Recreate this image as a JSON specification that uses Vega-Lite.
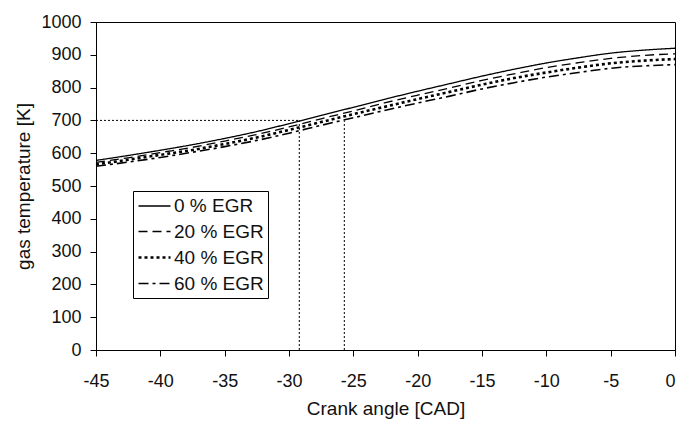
{
  "$schema": "https://vega.github.io/schema/vega-lite/v6.json",
  "width": 579,
  "height": 328,
  "autosize": {"type": "none"},
  "padding": {"left": 96, "top": 22, "right": 4, "bottom": 71},
  "background": "white",
  "config": {
    "view": {"stroke": "black", "strokeWidth": 1},
    "axis": {
      "grid": false,
      "domainColor": "black",
      "tickColor": "black",
      "labelColor": "#111111",
      "titleColor": "#111111",
      "labelFont": "Liberation Sans",
      "titleFont": "Liberation Sans",
      "labelFontSize": 18,
      "titleFontSize": 19,
      "titleFontWeight": "normal",
      "tickSize": 6,
      "labelOverlap": false,
      "labelFlush": false
    }
  },
  "datasets": {
    "curves": [
      {"angle": -45, "T": 578, "egr": "0 % EGR"},
      {"angle": -42.5, "T": 593, "egr": "0 % EGR"},
      {"angle": -40, "T": 609, "egr": "0 % EGR"},
      {"angle": -37.5, "T": 626, "egr": "0 % EGR"},
      {"angle": -35, "T": 645, "egr": "0 % EGR"},
      {"angle": -32.5, "T": 666, "egr": "0 % EGR"},
      {"angle": -30, "T": 690, "egr": "0 % EGR"},
      {"angle": -27.5, "T": 715, "egr": "0 % EGR"},
      {"angle": -25, "T": 740, "egr": "0 % EGR"},
      {"angle": -22.5, "T": 765, "egr": "0 % EGR"},
      {"angle": -20, "T": 789, "egr": "0 % EGR"},
      {"angle": -17.5, "T": 812, "egr": "0 % EGR"},
      {"angle": -15, "T": 835, "egr": "0 % EGR"},
      {"angle": -12.5, "T": 856, "egr": "0 % EGR"},
      {"angle": -10, "T": 875, "egr": "0 % EGR"},
      {"angle": -7.5, "T": 891, "egr": "0 % EGR"},
      {"angle": -5, "T": 905, "egr": "0 % EGR"},
      {"angle": -2.5, "T": 914, "egr": "0 % EGR"},
      {"angle": 0, "T": 920, "egr": "0 % EGR"},

      {"angle": -45, "T": 572, "egr": "20 % EGR"},
      {"angle": -42.5, "T": 586, "egr": "20 % EGR"},
      {"angle": -40, "T": 602, "egr": "20 % EGR"},
      {"angle": -37.5, "T": 618, "egr": "20 % EGR"},
      {"angle": -35, "T": 637, "egr": "20 % EGR"},
      {"angle": -32.5, "T": 657, "egr": "20 % EGR"},
      {"angle": -30, "T": 680, "egr": "20 % EGR"},
      {"angle": -27.5, "T": 705, "egr": "20 % EGR"},
      {"angle": -25, "T": 729, "egr": "20 % EGR"},
      {"angle": -22.5, "T": 754, "egr": "20 % EGR"},
      {"angle": -20, "T": 777, "egr": "20 % EGR"},
      {"angle": -17.5, "T": 799, "egr": "20 % EGR"},
      {"angle": -15, "T": 822, "egr": "20 % EGR"},
      {"angle": -12.5, "T": 842, "egr": "20 % EGR"},
      {"angle": -10, "T": 861, "egr": "20 % EGR"},
      {"angle": -7.5, "T": 876, "egr": "20 % EGR"},
      {"angle": -5, "T": 889, "egr": "20 % EGR"},
      {"angle": -2.5, "T": 898, "egr": "20 % EGR"},
      {"angle": 0, "T": 903, "egr": "20 % EGR"},

      {"angle": -45, "T": 566, "egr": "40 % EGR"},
      {"angle": -42.5, "T": 580, "egr": "40 % EGR"},
      {"angle": -40, "T": 595, "egr": "40 % EGR"},
      {"angle": -37.5, "T": 610, "egr": "40 % EGR"},
      {"angle": -35, "T": 628, "egr": "40 % EGR"},
      {"angle": -32.5, "T": 648, "egr": "40 % EGR"},
      {"angle": -30, "T": 671, "egr": "40 % EGR"},
      {"angle": -27.5, "T": 695, "egr": "40 % EGR"},
      {"angle": -25, "T": 719, "egr": "40 % EGR"},
      {"angle": -22.5, "T": 742, "egr": "40 % EGR"},
      {"angle": -20, "T": 765, "egr": "40 % EGR"},
      {"angle": -17.5, "T": 787, "egr": "40 % EGR"},
      {"angle": -15, "T": 809, "egr": "40 % EGR"},
      {"angle": -12.5, "T": 829, "egr": "40 % EGR"},
      {"angle": -10, "T": 846, "egr": "40 % EGR"},
      {"angle": -7.5, "T": 861, "egr": "40 % EGR"},
      {"angle": -5, "T": 874, "egr": "40 % EGR"},
      {"angle": -2.5, "T": 882, "egr": "40 % EGR"},
      {"angle": 0, "T": 887, "egr": "40 % EGR"},

      {"angle": -45, "T": 560, "egr": "60 % EGR"},
      {"angle": -42.5, "T": 573, "egr": "60 % EGR"},
      {"angle": -40, "T": 587, "egr": "60 % EGR"},
      {"angle": -37.5, "T": 603, "egr": "60 % EGR"},
      {"angle": -35, "T": 620, "egr": "60 % EGR"},
      {"angle": -32.5, "T": 639, "egr": "60 % EGR"},
      {"angle": -30, "T": 661, "egr": "60 % EGR"},
      {"angle": -27.5, "T": 685, "egr": "60 % EGR"},
      {"angle": -25, "T": 708, "egr": "60 % EGR"},
      {"angle": -22.5, "T": 731, "egr": "60 % EGR"},
      {"angle": -20, "T": 753, "egr": "60 % EGR"},
      {"angle": -17.5, "T": 774, "egr": "60 % EGR"},
      {"angle": -15, "T": 796, "egr": "60 % EGR"},
      {"angle": -12.5, "T": 815, "egr": "60 % EGR"},
      {"angle": -10, "T": 832, "egr": "60 % EGR"},
      {"angle": -7.5, "T": 846, "egr": "60 % EGR"},
      {"angle": -5, "T": 859, "egr": "60 % EGR"},
      {"angle": -2.5, "T": 866, "egr": "60 % EGR"},
      {"angle": 0, "T": 870, "egr": "60 % EGR"}
    ],
    "guides": [
      {"angle": -45, "angle2": -29.2, "T": 700, "T2": 700},
      {"angle": -29.2, "angle2": -29.2, "T": 0, "T2": 700},
      {"angle": -25.7, "angle2": -25.7, "T": 0, "T2": 700}
    ]
  },
  "encoding": {
    "x": {
      "field": "angle",
      "type": "quantitative",
      "title": "Crank angle [CAD]",
      "scale": {"domain": [-45, 0], "nice": false, "zero": false},
      "axis": {
        "values": [-45, -40, -35, -30, -25, -20, -15, -10, -5, 0],
        "labelExpr": "toString(datum.value)",
        "labelAlign": {"expr": "datum.value == 0 ? 'right' : 'center'"},
        "labelDx": {"expr": "datum.value == 0 ? 3 : 0"},
        "tickSize": 6,
        "labelPadding": 16,
        "titlePadding": 9
      }
    },
    "y": {
      "field": "T",
      "type": "quantitative",
      "title": "gas temperature [K]",
      "scale": {"domain": [0, 1000], "nice": false},
      "axis": {
        "values": [0, 100, 200, 300, 400, 500, 600, 700, 800, 900, 1000],
        "labelExpr": "toString(datum.value)",
        "tickSize": 6,
        "labelPadding": 9,
        "titlePadding": 7
      }
    }
  },
  "layer": [
    {
      "data": {"name": "guides"},
      "mark": {"type": "rule", "color": "black", "strokeWidth": 1, "strokeDash": [2, 2]},
      "encoding": {
        "x2": {"field": "angle2"},
        "y2": {"field": "T2"}
      }
    },
    {
      "data": {"name": "curves"},
      "mark": {"type": "line", "color": "black", "interpolate": "monotone"},
      "encoding": {
        "strokeDash": {
          "field": "egr",
          "type": "nominal",
          "scale": {
            "domain": ["0 % EGR", "20 % EGR", "40 % EGR", "60 % EGR"],
            "range": [[1, 0], [9, 5], [3, 3], [10, 4, 3, 4]]
          },
          "legend": {
            "title": null,
            "orient": "none",
            "legendX": 37,
            "legendY": 169,
            "strokeColor": "black",
            "padding": 4,
            "symbolType": "M-1,0H2.2",
            "symbolSize": 400,
            "symbolStrokeColor": "black",
            "symbolFillColor": "transparent",
            "labelFont": "Liberation Sans",
            "labelFontSize": 19,
            "labelColor": "#111111",
            "labelOffset": 14,
            "rowPadding": 4.5
          }
        },
        "strokeWidth": {
          "field": "egr",
          "type": "nominal",
          "scale": {
            "type": "ordinal",
            "domain": ["0 % EGR", "20 % EGR", "40 % EGR", "60 % EGR"],
            "range": [1.3, 1.3, 2.6, 1.6]
          },
          "legend": {
            "title": null,
            "orient": "none",
            "legendX": 37,
            "legendY": 169,
            "strokeColor": "black",
            "padding": 4,
            "symbolType": "M-1,0H2.2",
            "symbolSize": 400,
            "symbolStrokeColor": "black",
            "symbolFillColor": "transparent",
            "labelFont": "Liberation Sans",
            "labelFontSize": 19,
            "labelColor": "#111111",
            "labelOffset": 14,
            "rowPadding": 4.5
          }
        }
      }
    }
  ]
}
